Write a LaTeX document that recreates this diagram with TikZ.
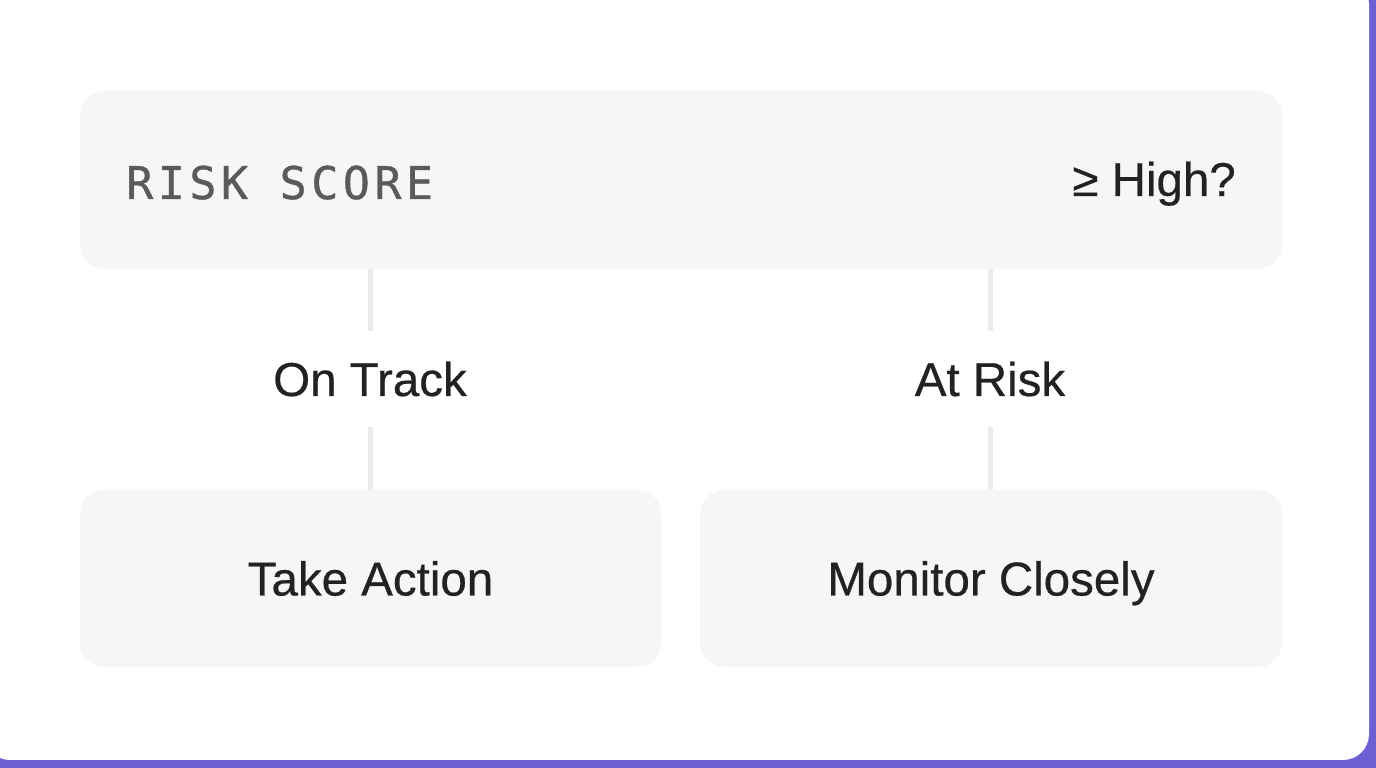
\documentclass[tikz,border=0pt]{standalone}
\usepackage{fontspec}
\setmainfont[FakeBold=0.5]{Liberation Sans}
\newfontfamily\monofont[LetterSpace=10,FakeBold=0.8]{DejaVu Sans Mono}
\usetikzlibrary{calc}

\definecolor{cardpurple}{HTML}{6B5FD3}
\definecolor{boxgray}{HTML}{F6F6F6}
\definecolor{linegray}{HTML}{ECECEC}
\definecolor{textdark}{HTML}{222222}
\definecolor{textmid}{HTML}{5A5A5A}

\tikzset{
    panel/.style={fill=boxgray, rounded corners=24pt, inner sep=0pt},
    txt/.style={text=textdark, font=\fontsize{47.5}{57}\selectfont, inner sep=0pt},
    branch/.style={txt, text height=34pt, text depth=0pt, minimum height=95pt},
    link/.style={draw=linegray, line width=5pt}
}

\begin{document}
\begin{tikzpicture}[x=1pt,y=1pt]
            \useasboundingbox (0,0) rectangle (1376,768);
            \fill[cardpurple] (0,0) rectangle (1376,768);
            \fill[white, rounded corners=26pt] (-16,8) rectangle (1369,790);
            \coordinate (S) at (681,588);
            \coordinate (L) at (370,389);
            \coordinate (R) at (990,389);
            \node[panel, minimum width=1202pt, minimum height=178pt] (score) at (S) {};
            \node[panel, minimum width=581pt, minimum height=177pt] (action) at (370.5,189.5) {};
            \node[panel, minimum width=582pt, minimum height=177pt] (monitor) at (991,189.5) {};
            \node[anchor=base west, inner sep=0pt, text=textmid, font=\monofont\fontsize{45}{54}\selectfont] (riskscore) at (126,569) {RISK SCORE};
            \node[txt, anchor=base east] (high) at (1236,572) {≥ High?};
            \node[branch] (ontrack) at (L) {On Track};
            \node[branch] (atrisk) at (R) {At Risk};
            \node[txt, text height=34pt, text depth=0pt] (takeaction) at (action) {Take Action};
            \node[txt, text height=34pt, text depth=0pt] (monitorclosely) at (monitor) {Monitor Closely};
            \draw[link] (score.south -| ontrack.north) -- (ontrack.north);
            \draw[link] (ontrack.south) -- (ontrack.south |- action.north);
            \draw[link] (score.south -| atrisk.north) -- (atrisk.north);
            \draw[link] (atrisk.south) -- (atrisk.south |- monitor.north);
        \end{tikzpicture}
\end{document}
